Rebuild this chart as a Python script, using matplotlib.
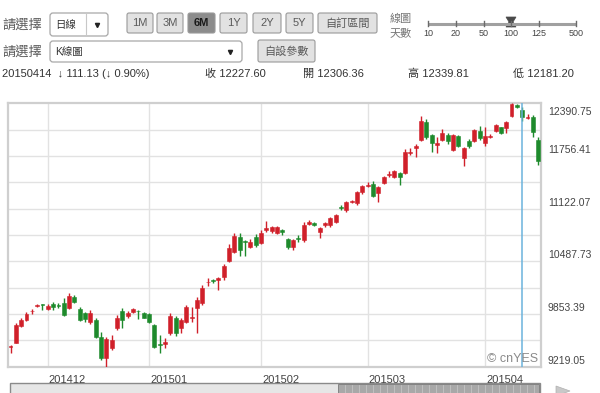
import matplotlib
matplotlib.use("Agg")
from matplotlib import pyplot as plt
from matplotlib.patches import Rectangle, FancyBboxPatch, Polygon
import matplotlib.transforms as mtransforms

plt.rcParams['font.family'] = ['Liberation Sans', 'Noto Sans CJK TC', 'DejaVu Sans']

# daily candles, 100 days (20141120 - 20150417)
opens = [9460, 9510, 9712, 9784, 9885, 9945, 9975, 9916, 9976, 9965,
         9988, 9928, 10060, 9915, 9868, 9760, 9784, 9580, 9327, 9447,
         9688, 9892, 9832, 9880, 9895, 9868, 9856, 9724, 9490, 9495,
         9627, 9808, 9688, 9760, 9810, 9928, 9988, 10235, 10260, 10264,
         10300, 10492, 10601, 10781, 10730, 10661, 10781, 10709, 10870, 10853,
         10829, 10870, 10757, 10661, 10765, 10745, 10940, 10950, 10840, 10925,
         10925, 10961, 11145, 11105, 11200, 11190, 11320, 11400, 11417, 11309,
         11429, 11530, 11501, 11549, 11550, 11795, 11850, 11946, 12162, 12006,
         11886, 11946, 12006, 11826, 11994, 11730, 11934, 11934, 12054, 11910,
         11990, 12054, 12102, 12090, 12234, 12370, 12306.36, 12215, 12220, 11946]
highs = [9475, 9740, 9808, 9880, 9920, 9975, 9980, 9976, 10000, 9990,
         10048, 10108, 10084, 9935, 9880, 9904, 9808, 9640, 9580, 9603,
         9844, 9928, 9892, 9928, 9900, 9880, 9870, 9735, 9603, 9567,
         9868, 9830, 9808, 9964, 9940, 10060, 10204, 10288, 10275, 10300,
         10456, 10697, 10829, 10829, 10745, 10757, 10817, 10865, 10976, 10913,
         10913, 10880, 10770, 10757, 10800, 10961, 10985, 10965, 10900, 10965,
         11020, 11060, 11160, 11220, 11230, 11340, 11410, 11440, 11453, 11400,
         11515, 11570, 11590, 11560, 11838, 11850, 11900, 12234, 12200, 12020,
         11982, 12078, 12030, 12020, 12010, 11862, 11960, 12080, 12114, 12100,
         12020, 12140, 12110, 12174, 12390.75, 12385, 12339.81, 12260, 12250, 11980]
lows = [9390, 9500, 9700, 9772, 9860, 9935, 9905, 9904, 9904, 9930,
        9832, 9916, 9988, 9770, 9760, 9736, 9568, 9303, 9219.05, 9423,
        9664, 9688, 9808, 9868, 9790, 9800, 9745, 9440, 9387, 9447,
        9603, 9591, 9627, 9748, 9760, 9627, 9964, 10192, 10230, 10144,
        10264, 10480, 10589, 10553, 10553, 10649, 10661, 10697, 10840, 10830,
        10817, 10805, 10640, 10620, 10720, 10720, 10930, 10910, 10765, 10900,
        10900, 10950, 11110, 11080, 11185, 11170, 11300, 11380, 11260, 11200,
        11420, 11500, 11490, 11405, 11538, 11770, 11740, 11934, 11960, 11800,
        11790, 11934, 11900, 11810, 11862, 11634, 11850, 11920, 11950, 11880,
        11970, 12040, 12020, 12030, 12220, 12330, 12181.20, 12200, 11990, 11650]
closes = [9470, 9725, 9784, 9856, 9895, 9965, 9968, 9952, 9940, 9955,
          9844, 10072, 10000, 9785, 9790, 9868, 9580, 9327, 9555, 9543,
          9808, 9784, 9868, 9916, 9885, 9808, 9760, 9459, 9478, 9519,
          9832, 9627, 9784, 9940, 9822, 10024, 10168, 10245, 10250, 10288,
          10432, 10649, 10793, 10625, 10715, 10721, 10685, 10829, 10890, 10901,
          10901, 10846, 10661, 10745, 10752, 10925, 10963, 10923, 10890, 10950,
          11010, 11045, 11130, 11201, 11210, 11320, 11393, 11410, 11273, 11381,
          11501, 11540, 11573, 11501, 11802, 11805, 11880, 12174, 11982, 11910,
          11910, 12030, 11934, 12006, 11874, 11850, 11874, 12066, 11970, 11994,
          12000, 12126, 12030, 12162, 12379, 12340, 12227.60, 12231, 12040, 11694]

month_labels = ['201412', '201501', '201502', '201503', '201504']
month_start = [7, 26, 47, 67, 89]
cursor_day = 96

y_min, y_max = 9219.05, 12390.75
y_step = (y_max - y_min) / 5

W, H = 600, 393
fig = plt.figure(figsize=(6, 3.93), dpi=100)
fig.patch.set_facecolor('white')

# ---------- UI layer in pixel coords ----------
ui = fig.add_axes([0, 0, 1, 1], zorder=0)
ui.set_xlim(0, W)
ui.set_ylim(H, 0)
ui.axis('off')

gray_txt = '#5a5a5a'


def button(x0, x1, y0, y1, label, dark=False, fs=8):
    fc = '#8c8c8c' if dark else '#e2e2e2'
    ui.add_patch(FancyBboxPatch((x0, y0), x1 - x0, y1 - y0,
                                boxstyle='round,pad=0,rounding_size=2',
                                fc=fc, ec='#9a9a9a', lw=0.8))
    ui.text((x0 + x1) / 2, (y0 + y1) / 2 + 0.5, label, ha='center', va='center',
            fontsize=fs, color='#1a1a1a' if dark else gray_txt,
            fontweight='bold' if dark else 'normal')


def dropdown(x0, x1, y0, y1, label, sep=None, arrow_x=None):
    ui.add_patch(FancyBboxPatch((x0, y0), x1 - x0, y1 - y0,
                                boxstyle='round,pad=0,rounding_size=3',
                                fc='white', ec='#a8a8a8', lw=0.9))
    ui.text(x0 + 5, (y0 + y1) / 2 + 0.5, label, ha='left', va='center',
            fontsize=7.5, color='#333333')
    if sep is not None:
        ui.plot([sep, sep], [y0 + 1, y1 - 1], color='#c8c8c8', lw=0.8)
    ui.plot([arrow_x], [(y0 + y1) / 2], marker='v', color='#222222',
            markersize=3, ls='none')


# row 1
ui.text(2, 25, '請選擇', ha='left', va='center', fontsize=9.5, color=gray_txt)
dropdown(50, 108, 13, 36, '日線', sep=86, arrow_x=97)
for (x0, x1, lab) in [(127, 153, '1M'), (157, 183, '3M'), (188, 215, '6M'),
                      (220, 247, '1Y'), (253, 281, '2Y'), (286, 313, '5Y')]:
    button(x0, x1, 13, 33, lab, dark=(lab == '6M'))
button(318, 377, 13, 33, '自訂區間', fs=8)

ui.text(390, 19, '線圖', ha='left', va='center', fontsize=8, color='#777777')
ui.text(390, 33, '天數', ha='left', va='center', fontsize=8, color='#777777')
slider_x = [428, 456, 484, 511, 539, 576]
slider_lab = ['10', '20', '50', '100', '125', '500']
ui.plot([slider_x[0], slider_x[-1]], [24, 24], color='#a0a0a0', lw=2.2,
        solid_capstyle='butt')
for sx, sl in zip(slider_x, slider_lab):
    ui.plot([sx, sx], [20.5, 26], color='#6a6a6a', lw=1)
    ui.text(sx, 34, sl, ha='center', va='center', fontsize=6.5, color='#444444')
ui.add_patch(Polygon([[506, 17], [516, 17], [513, 22], [516, 27], [506, 27], [509, 22]],
                     closed=True, fc='#4a4a4a', ec='#4a4a4a', lw=0.5))

# row 2
ui.text(2, 52, '請選擇', ha='left', va='center', fontsize=9.5, color=gray_txt)
dropdown(50, 242, 41, 62, 'K線圖', arrow_x=230)
button(258, 315, 40, 62, '自設參數', fs=8)

# row 3 header
ui.text(2, 74, '20150414  \u2193 111.13 (\u2193 0.90%)', ha='left', va='center',
        fontsize=8, color='#333333')
ui.text(205, 74, '收 12227.60', ha='left', va='center', fontsize=8, color='#333333')
ui.text(303, 74, '開 12306.36', ha='left', va='center', fontsize=8, color='#333333')
ui.text(408, 74, '高 12339.81', ha='left', va='center', fontsize=8, color='#333333')
ui.text(513, 74, '低 12181.20', ha='left', va='center', fontsize=8, color='#333333')

# scrollbar under chart
ui.add_patch(Rectangle((10, 383), 530, 12, fc='#e6e6e6', ec='#8a8a8a', lw=1))
ui.add_patch(Rectangle((338, 384), 201, 11, fc='#a8a8a8', ec='#7a7a7a', lw=0.6))
for gx in range(345, 538, 7):
    ui.plot([gx, gx], [385, 393], color='#c4c4c4', lw=0.6)
ui.add_patch(Polygon([[556, 386], [570, 391], [556, 396]], closed=True,
                     fc='#c8c8c8', ec='#b0b0b0', lw=0.5))

# ---------- candle chart ----------
x0p, x1p, y0p, y1p = 8, 541, 103, 367
ax = fig.add_axes([x0p / W, 1 - y1p / H, (x1p - x0p) / W, (y1p - y0p) / H], zorder=2)
ax.set_facecolor('white')

red, green = '#d0202a', '#1e8a2c'
days = list(range(len(opens)))
colors = [red if c >= o else green for o, c in zip(opens, closes)]
ax.vlines(days, lows, highs, colors=colors, lw=1.0, zorder=3)
bottoms = [min(o, c) for o, c in zip(opens, closes)]
heights = [max(abs(c - o), 10) for o, c in zip(opens, closes)]
ax.bar(days, heights, bottom=bottoms, width=0.74, color=colors, edgecolor=colors,
       lw=0.4, zorder=4)

ax.set_xlim(-0.47, 99.53)
ax.set_ylim(y_min - 3, y_max + 3)

grid_vals = [y_min + k * y_step / 2 for k in range(1, 10)]
for g in grid_vals:
    ax.axhline(g, color='#e2e2e2', lw=1, zorder=1)
for m in month_start:
    ax.axvline(m, color='#e2e2e2', lw=1, zorder=1)

ax.axvline(cursor_day, color='#6bb3dc', lw=1.1, zorder=5)

ax.set_xticks([])
ax.set_yticks([])
for s in ax.spines.values():
    s.set_color('#cfcfcf')
    s.set_linewidth(1.6)

# right y labels
tr_y = mtransforms.blended_transform_factory(ax.transAxes, ax.transData)
for k in range(6):
    v = y_min + k * y_step
    va = 'top' if k == 5 else 'bottom'
    off = -4 if k == 5 else 1
    ax.text(1.013, v + off * 12, f'{v:.2f}', transform=tr_y, ha='left', va=va,
            fontsize=7.5, color='#444444', clip_on=False)

# month labels
tr_x = mtransforms.blended_transform_factory(ax.transData, ax.transAxes)
for m, lab in zip(month_start, month_labels):
    ax.text(m + 0.2, -0.05, lab, transform=tr_x, ha='left', va='center',
            fontsize=8, color='#444444', clip_on=False)

ax.text(0.995, 0.03, '© cnYES', transform=ax.transAxes, ha='right', va='center',
        fontsize=9, color='#8a8a8a', zorder=6)

fig.savefig('out.png', dpi=100)
